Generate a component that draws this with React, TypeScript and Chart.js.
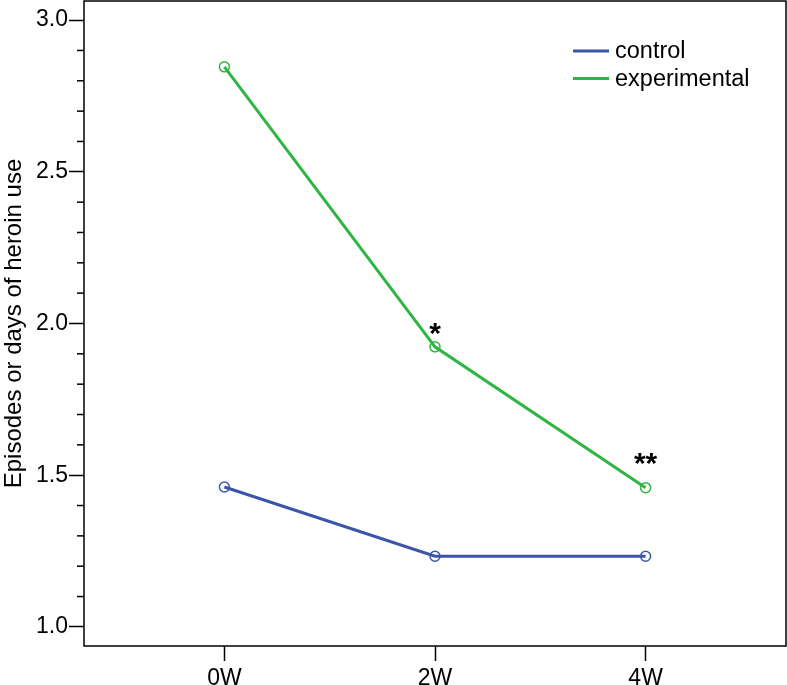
import React, { useEffect, useRef } from "react";
import { Chart, registerables } from "chart.js";

Chart.register(...registerables);

const categories = ["0W", "2W", "4W"];
const controlValues = [1.461, 1.233, 1.233];
const experimentalValues = [2.846, 1.923, 1.459];
const yMajorTicks = [1.0, 1.5, 2.0, 2.5, 3.0];
const sigLabels = ["", "*", "**"];
const sigY = [0, 1.935, 1.507];

const BLUE = "#3b55a8";
const GREEN = "#2fb543";
const FONT = "'Liberation Sans', Arial, Helvetica, sans-serif";

const decorPlugin = {
  id: "decor",
  afterDraw(chart: any) {
    const { ctx, chartArea, scales } = chart;
    const y = scales.y;
    const x = scales.x;
    ctx.save();
    ctx.strokeStyle = "#000";
    ctx.lineWidth = 1.5;
    ctx.strokeRect(chartArea.left, chartArea.top, chartArea.right - chartArea.left, chartArea.bottom - chartArea.top);
    for (let i = 0; i <= 20; i++) {
      if (i % 5 === 0) continue;
      const v = 1.0 + i * 0.1;
      const py = y.getPixelForValue(v);
      ctx.beginPath();
      ctx.moveTo(chartArea.left - 7, py);
      ctx.lineTo(chartArea.left, py);
      ctx.stroke();
    }
    ctx.fillStyle = "#000";
    ctx.font = "bold 30px " + FONT;
    ctx.textAlign = "center";
    ctx.textBaseline = "alphabetic";
    sigLabels.forEach((t, i) => {
      if (!t) return;
      ctx.fillText(t, x.getPixelForValue(i), y.getPixelForValue(sigY[i]));
    });
    const items = [
      { label: "control", color: BLUE },
      { label: "experimental", color: GREEN },
    ];
    ctx.font = "23.5px " + FONT;
    ctx.textAlign = "left";
    ctx.textBaseline = "middle";
    items.forEach((it, i) => {
      const ly = 51 + i * 27.5;
      ctx.strokeStyle = it.color;
      ctx.lineWidth = 3;
      ctx.beginPath();
      ctx.moveTo(573, ly);
      ctx.lineTo(609, ly);
      ctx.stroke();
      ctx.fillStyle = "#000";
      ctx.fillText(it.label, 615, ly + 1);
    });
    ctx.restore();
  },
};

export default function App() {
  const ref = useRef<HTMLCanvasElement>(null);
  useEffect(() => {
    if (!ref.current) return;
    const mk = (vals: number[]) => vals.map((v, i) => ({ x: i, y: v }));
    const ds = (label: string, vals: number[], color: string) => ({
      label,
      data: mk(vals),
      borderColor: color,
      borderWidth: 3,
      pointRadius: 5,
      pointBorderWidth: 1.5,
      pointBorderColor: color,
      pointBackgroundColor: "rgba(0,0,0,0)",
      tension: 0,
    });
    const chart = new Chart(ref.current, {
      type: "line",
      data: {
        datasets: [ds("control", controlValues, BLUE), ds("experimental", experimentalValues, GREEN)],
      },
      options: {
        animation: false,
        responsive: false,
        devicePixelRatio: 1,
        layout: { autoPadding: false, padding: { top: 1, right: 1, left: 0, bottom: 0 } },
        plugins: { legend: { display: false }, tooltip: { enabled: false } },
        scales: {
          x: {
            type: "linear",
            min: -2 / 3,
            max: 8 / 3,
            afterBuildTicks: (s: any) => {
              s.ticks = categories.map((_, i) => ({ value: i }));
            },
            afterFit: (s: any) => {
              s.height = 39;
              s.paddingLeft = 0;
              s.paddingRight = 0;
            },
            ticks: {
              callback: (v: any) => categories[Math.round(Number(v))] ?? "",
              font: { family: FONT, size: 23 },
              color: "#000",
              padding: 4,
              autoSkip: false,
              maxRotation: 0,
            },
            grid: {
              drawOnChartArea: false,
              tickLength: 15,
              tickColor: "#000",
              tickWidth: 1.5,
            },
            border: { display: false },
          },
          y: {
            type: "linear",
            min: 0.937,
            max: 3.063,
            afterBuildTicks: (s: any) => {
              s.ticks = yMajorTicks.map((v) => ({ value: v }));
            },
            afterFit: (s: any) => {
              s.width = 84;
              s.paddingTop = 0;
              s.paddingBottom = 0;
            },
            ticks: {
              callback: (v: any) => Number(v).toFixed(1),
              font: { family: FONT, size: 23 },
              color: "#000",
              padding: 1,
            },
            grid: {
              drawOnChartArea: false,
              tickLength: 15,
              tickColor: "#000",
              tickWidth: 1.5,
            },
            border: { display: false },
            title: {
              display: true,
              text: "Episodes or days of heroin use",
              font: { family: FONT, size: 24 },
              color: "#000",
              padding: { top: 0, bottom: 0 },
            },
          },
        },
      },
      plugins: [decorPlugin],
    } as any);
    return () => chart.destroy();
  }, []);
  return (
    <div style={{ position: "absolute", left: 0, top: 0, width: 787, height: 685 }}>
      <canvas ref={ref} width={787} height={685} />
    </div>
  );
}
